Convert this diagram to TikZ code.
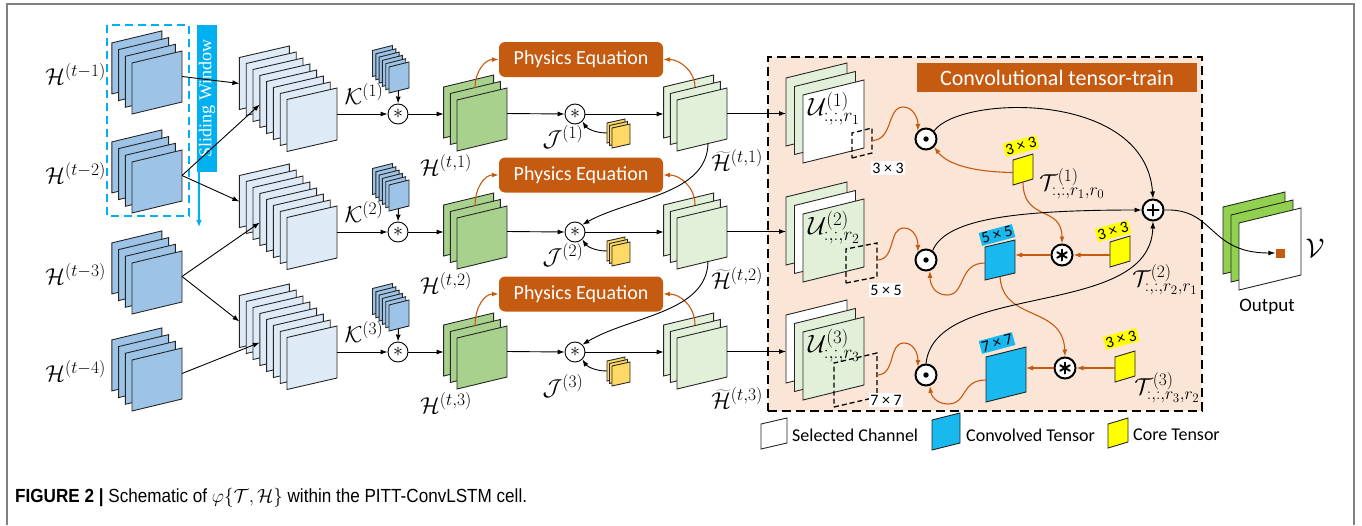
\documentclass[tikz,border=0pt]{standalone}
\usepackage{fix-cm}
\usepackage{fontspec}
\setmainfont{Carlito}
\newfontfamily\serifwin{Liberation Serif}
\newfontfamily\capfont[FakeStretch=0.9]{Liberation Sans}
\usetikzlibrary{arrows.meta,calc}
% larger indices for the symbol labels
\DeclareMathSizes{23}{23}{17.5}{13}
\DeclareMathSizes{25}{25}{19}{14}

\definecolor{framegrey}{RGB}{128,128,128}
\definecolor{winblue}{RGB}{0,176,240}
\definecolor{deepblue}{RGB}{157,195,230}
\definecolor{paleblue}{RGB}{222,235,247}
\definecolor{greenA}{RGB}{169,209,142}
\definecolor{palegreen}{RGB}{226,240,217}
\definecolor{brightgreen}{RGB}{146,208,80}
\definecolor{gold}{RGB}{255,217,102}
\definecolor{rust}{RGB}{197,90,17}
\definecolor{peach}{RGB}{251,229,214}
\definecolor{convblue}{RGB}{25,185,240}
\definecolor{coreyellow}{RGB}{255,255,0}

\tikzset{
  sheet/.style={draw=black!85, line width=0.9pt},
  link/.style={draw=black, line width=0.9pt, -{Latex[length=7pt,width=5pt]}},
  olink/.style={draw=rust, line width=1.1pt, -{Latex[length=7pt,width=5pt]}},
  opc/.style={circle, draw, fill=white, line width=0.9pt, minimum size=20pt, inner sep=0pt, font=\fontsize{20}{22}\selectfont},
  ttopc/.style={opc, line width=2pt, minimum size=21pt},
  mathlbl/.style={inner sep=0pt, font=\fontsize{23}{27}\selectfont},
  biglbl/.style={inner sep=0pt, font=\fontsize{25}{29}\selectfont},
  phys/.style={rounded corners=6pt, fill=rust, text=white, minimum width=164pt, minimum height=35pt, inner sep=0pt, font=\fontsize{20}{24}\selectfont},
  sizelbl/.style={fill=white, inner sep=1.5pt, font=\fontsize{16}{18}\selectfont},
  corelbl/.style={fill=coreyellow, inner sep=1.5pt, rotate=15, font=\fontsize{16}{18}\selectfont},
  convlbl/.style={fill=convblue, inner sep=1.5pt, rotate=15, font=\fontsize{16}{18}\selectfont},
  winline/.style={draw=black, line width=1.3pt, dash pattern=on 5pt off 3pt},
  legendtxt/.style={anchor=west, inner sep=0pt, font=\fontsize{18}{21}\selectfont},
  glyph/.style={line width=2pt, line cap=round},
}

% one slanted sheet: bottom-left (#1,#2), width #3, height #4, slant #5, fill #6
\newcommand\sheet[6]{\filldraw[sheet,fill=#6] (#1,#2) -- ++({#3},{-(#5)}) -- ++(0,{-(#4)}) -- ++({-(#3)},{#5}) -- cycle;}
% geometry of the next stacks: step x, step y, width, height, slant
\newcommand\setgeo[5]{\def\sdx{#1}\def\sdy{#2}\def\sw{#3}\def\sh{#4}\def\ss{#5}}
% stack of sheets: name, front bottom-left x, y, number of sheets, fill
\newcommand\stack[5]{%
  \pgfmathtruncatemacro\stackn{#4-1}%
  \foreach \i in {\stackn,...,0}{\sheet{#2-\i*\sdx}{#3-\i*\sdy}{\sw}{\sh}{\ss}{#5}}%
  \coordinate (#1-e) at ({#2+\sw},{#3-\ss-\sh/2});%
  \coordinate (#1-bl) at ({#2-\stackn*\sdx},{#3-\stackn*\sdy});%
}
% three-sheet channel stack of the tensor-train block
\newcommand\ustack[5]{%
  \sheet{786}{#2-17}{61}{68}{15}{#3}%
  \sheet{794.5}{#2-8.5}{61}{68}{15}{#4}%
  \sheet{803}{#2}{61}{68}{15}{#5}%
  \coordinate (#1-bl) at (786,#2-17);%
}
% heavy asterisk drawn inside a node
\newcommand\heavyast[1]{%
  \foreach \a in {90,30,-30}{\draw[glyph] ($(#1)+(\a:5.5)$) -- ($(#1)+(\a+180:5.5)$);}%
}

\begin{document}
\begin{tikzpicture}[x=1pt,y=-1pt]
\useasboundingbox (0,0) rectangle (1362,525);

% outer frame
\draw[framegrey, line width=1.5pt] (7,525) -- (7,4) -- (1354,4) -- (1354,525);

% tensor-train block background
\node[draw, fill=peach, line width=1.5pt, dash pattern=on 9pt off 5pt, minimum width=434pt, minimum height=354pt, inner sep=0pt] (tt) at (985,234) {};
\node[fill=rust, text=white, minimum width=280pt, minimum height=29pt, inner sep=0pt, font=\fontsize{22}{26}\selectfont] (ttl) at (1057,77.5) {Convolutional tensor-train};

% sliding window
\draw[winblue, line width=2pt, dash pattern=on 8pt off 5pt] (107,25) rectangle (189,216);
\node[fill=winblue, text=white, minimum width=147pt, minimum height=20pt, inner sep=0pt, rotate=90, font=\serifwin\fontsize{18}{20}\selectfont] (win) at (207,98.5) {Sliding Window};
\coordinate (winend) at (199,227);
\draw[winblue, line width=2pt, -{Latex[length=7pt,width=6pt]}] ($(win.north west)+(2,0)$) -- (winend);

% past hidden states
\setgeo{6.7}{6.7}{50}{51}{12}
\stack{A1}{132}{114}{4}{deepblue}
\stack{A2}{132}{213}{4}{deepblue}
\stack{A3}{132}{314}{4}{deepblue}
\stack{A4}{132}{411}{4}{deepblue}
\node[mathlbl, anchor=east] (ha1) at (106,74) {$\mathcal{H}^{(t-1)}$};
\node[mathlbl, anchor=east] (ha2) at (106,173) {$\mathcal{H}^{(t-2)}$};
\node[mathlbl, anchor=east] (ha3) at (106,274) {$\mathcal{H}^{(t-3)}$};
\node[mathlbl, anchor=east] (ha4) at (106,371) {$\mathcal{H}^{(t-4)}$};

% three processing rows
\foreach \r/\cy/\py/\jy in {1/114/59.5/137, 2/232/175/255, 3/352/294/386}{
  % concatenated window
  \setgeo{6.8}{6}{50}{52}{11.5}
  \stack{L\r}{287}{\cy+37.5}{8}{paleblue}
  \coordinate (L\r-a) at ($(L\r-bl)+(0,-26)$);
  \coordinate (L\r-b) at ($(L\r-bl)+(20.4,-5)$);
  % kernel
  \setgeo{3.3}{3.3}{20}{26}{5}
  \stack{K\r}{389}{\cy-21}{6}{deepblue}
  \node[mathlbl] (kl\r) at (364,\cy-20) {$\mathcal{K}^{(\r)}$};
  \node[opc] (c\r) at (398,\cy) {$\ast$};
  \coordinate (K\r-s) at (398.5,\cy-23.5);
  \draw[link] (K\r-s) -- (c\r.north);
  \draw[link] (L\r-e) -- (c\r.west);
  % convolved state
  \setgeo{6.7}{6.5}{50}{51}{12}
  \stack{G\r}{457}{\cy+37}{3}{greenA}
  \coordinate (G\r-w) at ($(G\r-bl)+(0,-24)$);
  \coordinate (G\r-t) at (475,\cy-26);
  \draw[link] (c\r.east) -- (G\r-w);
  \node[mathlbl] (hl\r) at (446,\cy+51) {$\mathcal{H}^{(t,\r)}$};
  % physics constraint
  \node[phys] (p\r) at (581,\py) {Physics Equation};
  \draw[olink] (G\r-t) .. controls (475,\py+12) and (485,\py) .. (p\r.west);
  % second convolution
  \node[opc] (j\r) at (575,\cy) {$\ast$};
  \draw[link] (G\r-e) -- (j\r.west);
  \setgeo{2.5}{2.5}{18}{20}{4}
  \stack{Y\r}{612}{\cy+34}{3}{gold}
  \coordinate (Y\r-w) at ($(Y\r-bl)+(0,-10)$);
  \node[mathlbl] (jl\r) at (563,\jy) {$\mathcal{J}^{(\r)}$};
  \draw[link] (Y\r-w) .. controls (593,\cy+19) and (586,\cy+13) .. (j\r.south east);
  % corrected state
  \setgeo{6.7}{6.5}{50}{51}{12}
  \stack{M\r}{677}{\cy+37}{3}{palegreen}
  \coordinate (M\r-w) at ($(M\r-bl)+(0,-24)$);
  \coordinate (M\r-t) at (695,\cy-27);
  \coordinate (M\r-b) at (708,\cy+29.5);
  \draw[link] (j\r.east) -- (M\r-w);
  \draw[olink] (M\r-t) .. controls (695,\py+12) and (680,\py) .. (p\r.east);
  \node[mathlbl] (ml\r) at (737,\cy+46) {$\widetilde{\mathcal{H}}^{(t,\r)}$};
}

% window inputs
\draw[link] (A1-e) -- (L1-a);
\draw[link] (A2-e) -- (L1-b);
\draw[link] (A2-e) -- (L2-a);
\draw[link] (A3-e) -- (L2-b);
\draw[link] (A3-e) -- (L3-a);
\draw[link] (A4-e) -- (L3-b);

% row-to-row feedback
\draw[link] (M1-b) .. controls (707,195) and (630,198) .. (j2.north east);
\draw[link] (M2-b) .. controls (707,313) and (630,316) .. (j3.north east);

% selected channels
\ustack{U1}{163}{palegreen}{palegreen}{white}
\ustack{U2}{282}{palegreen}{white}{palegreen}
\ustack{U3}{400}{white}{palegreen}{palegreen}
\foreach \r in {1,2,3}{\draw[link] (M\r-e) -- (M\r-e -| U\r-bl);}
\node[biglbl] (ul1) at (834,109) {$\mathcal{U}^{(1)}_{:,:,r_1}$};
\node[biglbl] (ul2) at (834,228) {$\mathcal{U}^{(2)}_{:,:,r_2}$};
\node[biglbl] (ul3) at (834,346) {$\mathcal{U}^{(3)}_{:,:,r_3}$};

% receptive windows
\draw[winline] (852,158) -- ++(20,-5) -- ++(0,-25) -- ++(-20,5) -- cycle;
\draw[winline] (846,283) -- ++(31,-6) -- ++(0,-34) -- ++(-31,6) -- cycle;
\draw[winline] (834,407) -- ++(43,-10) -- ++(0,-44) -- ++(-43,10) -- cycle;
\coordinate (W1-e) at (872,140.5);
\coordinate (W2-e) at (877,260);
\coordinate (W3-e) at (877,375);
\node[sizelbl] (s1) at (888,168) {3 × 3};
\node[sizelbl] (s2) at (886,290) {5 × 5};
\node[sizelbl] (s3) at (886,400) {7 × 7};

% element-wise products
\node[ttopc] (o1) at (926,139) {};
\node[ttopc] (o2) at (926,260) {};
\node[ttopc] (o3) at (926,375) {};
\foreach \r in {1,2,3}{\fill (o\r) circle[radius=2.7pt];}
\draw[olink] (W1-e) .. controls (893,140.5) and (887,107) .. (903,107) .. controls (913,107) and (918,118) .. (o1.north west);
\draw[olink] (W2-e) .. controls (896,260) and (888,228) .. (904,228) .. controls (914,228) and (918,239) .. (o2.north west);
\draw[olink] (W3-e) .. controls (896,375) and (888,343) .. (904,343) .. controls (914,343) and (918,354) .. (o3.north west);

% core tensors
\sheet{1013}{185}{20}{25}{6}{coreyellow}
\sheet{1110}{267}{20}{25}{6}{coreyellow}
\sheet{1115}{382}{20}{25}{6}{coreyellow}
\coordinate (T1-w) at (1013,172.5);
\coordinate (T1-s) at (1023,182);
\coordinate (T2-w) at (1110,255);
\coordinate (T3-w) at (1115,368);
\node[corelbl] (cl1) at (1021,146) {3 × 3};
\node[corelbl] (cl2) at (1113,231) {3 × 3};
\node[corelbl] (cl3) at (1121,339) {3 × 3};
\node[mathlbl] (tl1) at (1072,184) {$\mathcal{T}^{(1)}_{:,:,r_1,r_0}$};
\node[mathlbl] (tl2) at (1165,280) {$\mathcal{T}^{(2)}_{:,:,r_2,r_1}$};
\node[mathlbl] (tl3) at (1167,388) {$\mathcal{T}^{(3)}_{:,:,r_3,r_2}$};

% convolved tensors
\sheet{985}{280}{30}{33}{7}{convblue}
\sheet{986}{402}{40}{45}{10}{convblue}
\coordinate (B2-e) at (1015,255);
\coordinate (B2-w) at (985,263);
\coordinate (B2-s) at (1000,277);
\coordinate (B3-e) at (1026,368);
\coordinate (B3-w) at (986,380);
\node[convlbl] (bl2) at (997,235) {5 × 5};
\node[convlbl] (bl3) at (997,343) {7 × 7};

% convolutions
\node[ttopc] (q2) at (1062,255) {};
\node[ttopc] (q3) at (1065,368) {};
\heavyast{q2}
\heavyast{q3}

% sum
\node[ttopc] (plus) at (1153,210) {};
\draw[glyph] ($(plus)+(-5.5,0)$) -- ($(plus)+(5.5,0)$);
\draw[glyph] ($(plus)+(0,-5.5)$) -- ($(plus)+(0,5.5)$);

% core-tensor flow
\draw[olink] (T1-w) .. controls (975,172) and (948,165) .. (o1.south east);
\draw[olink] (T1-s) .. controls (1023,222) and (1062,205) .. (q2.north);
\draw[olink] (T2-w) -- (q2.east);
\draw[olink] (q2.west) -- (B2-e);
\draw[olink] (B2-w) .. controls (958,263) and (966,295) .. (947,295) .. controls (935,295) and (930,285) .. (o2.-70);
\draw[olink] (B2-s) .. controls (1003,322) and (1063,305) .. (q3.north);
\draw[olink] (T3-w) -- (q3.east);
\draw[olink] (q3.west) -- (B3-e);
\draw[olink] (B3-w) .. controls (960,380) and (968,404) .. (948,404) .. controls (936,404) and (931,395) .. (o3.-70);

% products into the sum
\draw[link] (o1.north east) .. controls (960,95) and (1145,90) .. (plus.north);
\draw[link] (o2.55) .. controls (945,222) and (1000,210) .. (plus.west);
\draw[link] (o3.north) .. controls (935,280) and (1150,320) .. (plus.south);

% output
\sheet{1223}{274}{62}{67}{15}{brightgreen}
\sheet{1231}{282}{62}{67}{15}{brightgreen}
\sheet{1239}{290}{62}{67}{15}{white}
\node[fill=rust, minimum size=9pt, inner sep=0pt] (vout) at (1280,253) {};
\draw[link] (plus.east) .. controls (1215,208) and (1208,253) .. (vout.west);
\node[inner sep=0pt, font=\fontsize{27}{30}\selectfont] (vl) at (1315,248) {$\mathcal{V}$};
\node[inner sep=0pt, font=\fontsize{19}{22}\selectfont] (outl) at (1267,307) {Output};

% legend
\sheet{761}{449}{26}{25}{6}{white}
\node[legendtxt] (lg1) at (792,435) {Selected Channel};
\sheet{932}{450}{28}{30}{7}{convblue}
\node[legendtxt] (lg2) at (966,435) {Convolved Tensor};
\sheet{1108}{448}{20}{24}{6}{coreyellow}
\node[legendtxt] (lg3) at (1133,435) {Core Tensor};

% caption
\node[anchor=base west, inner sep=0pt, font=\capfont\fontsize{19}{22}\selectfont] (cap) at (15,502) {\textbf{FIGURE 2 |} Schematic of $\varphi\{\mathcal{T},\mathcal{H}\}$ within the PITT-ConvLSTM cell.};
\end{tikzpicture}
\end{document}
